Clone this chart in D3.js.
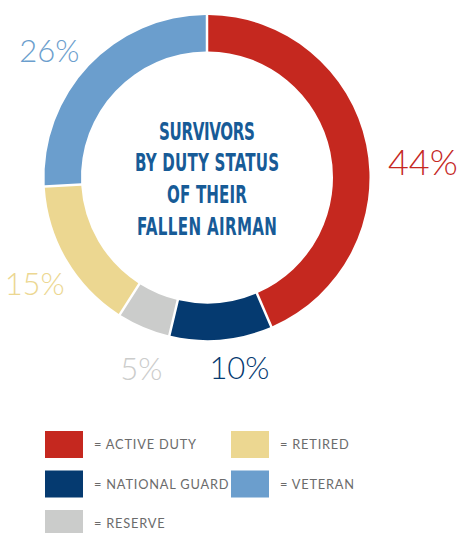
<!DOCTYPE html>
<html><head><meta charset="utf-8">
<script src="https://cdn.jsdelivr.net/npm/d3@7"></script>
<style>
html,body{margin:0;padding:0;background:#fff;}
svg{display:block;}
</style></head>
<body>
<script>
// ---- data ----
const categories = ["ACTIVE DUTY", "NATIONAL GUARD", "RESERVE", "RETIRED", "VETERAN"];
const values = [44, 10, 5, 15, 26];
const colors = ["#c5281f", "#053a70", "#cbcccb", "#ecd791", "#6b9ecd"];
const titleLines = ["SURVIVORS", "BY DUTY STATUS", "OF THEIR", "FALLEN AIRMAN"];
const legendOrder = ["ACTIVE DUTY", "RETIRED", "NATIONAL GUARD", "VETERAN", "RESERVE"];

// ---- layout ----
const W = 458, H = 533;
const cx = 207, cy = 177.5, R = 162.5, r = 126;
const labelR = 202;
const labelNudge = [[18, 25], [15, -10.5], [13, 5], [2, 4], [-11, 12]];
const labelSize = [36, 31, 31, 31, 31];
const titleWidths = [96, 144, 80, 140];
const titleScaleX = 0.7;

const svg = d3.select("body").append("svg").attr("width", W).attr("height", H);
const g = svg.append("g").attr("transform", `translate(${cx},${cy})`);

const data = categories.map((c, i) => ({cat: c, value: values[i], color: colors[i], i}));
const pie = d3.pie().value(d => d.value).sort(null).padAngle(0.025);
const arc = d3.arc().innerRadius(r).outerRadius(R).padRadius(100);
const arcs = pie(data);

g.selectAll("path.slice").data(arcs).join("path")
  .attr("class", "slice")
  .attr("d", arc)
  .attr("fill", d => d.data.color);

const labelArc = d3.arc().innerRadius(labelR).outerRadius(labelR);
g.selectAll("text.pct").data(arcs).join("text")
  .attr("class", "pct")
  .attr("x", d => labelArc.centroid(d)[0] + labelNudge[d.data.i][0])
  .attr("y", d => labelArc.centroid(d)[1] + labelNudge[d.data.i][1])
  .attr("dy", "0.36em")
  .attr("text-anchor", "middle")
  .attr("font-family", "Lato, 'Open Sans', sans-serif")
  .attr("font-weight", 300)
  .attr("font-size", d => labelSize[d.data.i])
  .attr("fill", d => d.data.color)
  .text(d => d.data.value + "%");

// center title
const titleY = d3.scalePoint().domain(d3.range(titleLines.length)).range([139.5, 235]);
const tg = g.append("g").attr("transform", `scale(${titleScaleX},1)`);
tg.selectAll("text").data(titleLines).join("text")
  .attr("x", 0)
  .attr("y", (d, i) => titleY(i) - cy)
  .attr("font-family", "'Liberation Sans Narrow', 'DejaVu Sans Condensed', sans-serif")
  .attr("font-weight", "bold")
  .attr("font-size", 24)
  .attr("fill", "#175b97")
  .text(d => d)
  .each(function(d, i) {
    const el = d3.select(this);
    const nat = this.getComputedTextLength();
    const target = titleWidths[i] / titleScaleX;
    const ls = (target - nat) / (d.length - 1);
    el.attr("letter-spacing", ls + "px");
    el.attr("x", -target / 2);
  });

// legend
const colScale = d3.scaleOrdinal().domain([0, 1]).range([45, 231]);
const rowScale = d3.scaleLinear().domain([0, 1]).range([431, 470.5]);
const leg = svg.append("g").selectAll("g").data(legendOrder).join("g")
  .attr("transform", (d, i) => `translate(${colScale(i % 2)},${rowScale(Math.floor(i / 2))})`);
leg.append("rect")
  .attr("width", 38).attr("height", 27)
  .attr("fill", d => colors[categories.indexOf(d)]);
leg.append("text")
  .attr("x", 49).attr("y", 18)
  .attr("font-family", "Lato, 'Open Sans', sans-serif")
  .attr("font-size", 12.8)
  .attr("letter-spacing", "0.8px")
  .attr("fill", "#6b6b6b")
  .text(d => "= " + d);
</script>
</body></html>
